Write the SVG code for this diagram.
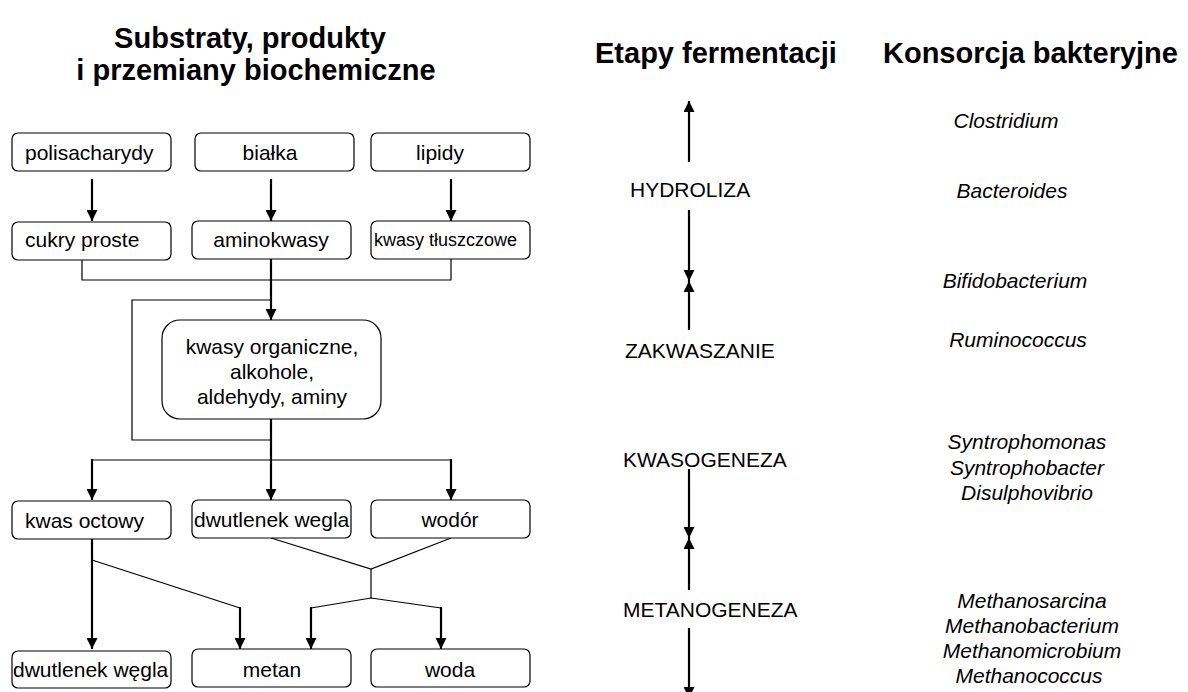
<svg xmlns="http://www.w3.org/2000/svg" width="1188" height="692" viewBox="0 0 1188 692">
<style>
text{font-family:"Liberation Sans",Arial,sans-serif;fill:#000}
.title{font-size:29px;font-weight:bold}
.lbl{font-size:21px}
.small{font-size:18px}
.stage{font-size:21px}
.bact{font-size:21px;font-style:italic;text-anchor:middle}
.mid{text-anchor:middle}
.box{fill:#fff;stroke:#000;stroke-width:1.2}
.thin{fill:none;stroke:#000;stroke-width:1.2}
.arr{fill:none;stroke:#000;stroke-width:2.2;marker-end:url(#ah)}
</style>
<defs>
<marker id="ah" viewBox="0 0 10 10" refX="10" refY="5" markerWidth="11" markerHeight="11" markerUnits="userSpaceOnUse" orient="auto">
<path d="M0,0 L10,5 L0,10 z" fill="#000"/>
</marker>
</defs>
<rect width="1188" height="692" fill="#fff"/>

<g id="headings">
<text class="title mid" x="250" y="48">Substraty, produkty</text>
<text class="title mid" x="256" y="80">i przemiany biochemiczne</text>
<text class="title" x="595" y="63">Etapy fermentacji</text>
<text class="title" x="883" y="63">Konsorcja bakteryjne</text>
</g>

<g id="connectors">
<line class="arr" x1="92" y1="179" x2="92" y2="221"/>
<line class="arr" x1="271" y1="179" x2="271" y2="221"/>
<line class="arr" x1="451" y1="179" x2="451" y2="221"/>
<polyline class="thin" points="82,260 82,280 451,280 451,259"/>
<line class="arr" x1="271" y1="259" x2="271" y2="320"/>
<polyline class="thin" points="271,300 132,300 132,440 271,440"/>
<line class="arr" x1="271" y1="419" x2="271" y2="500"/>
<polyline class="thin" points="92,460 451,460"/>
<line class="arr" x1="92" y1="459" x2="92" y2="500"/>
<line class="arr" x1="451" y1="459" x2="451" y2="500"/>
<line class="arr" x1="92" y1="538" x2="92" y2="649"/>
<polyline class="thin" points="92,560 240,608"/>
<line class="arr" x1="240" y1="607" x2="240" y2="649"/>
<polyline class="thin" points="271,538 371,569 451,538"/>
<polyline class="thin" points="371,569 371,598"/>
<polyline class="thin" points="311,608 371,598 441,608"/>
<line class="arr" x1="311" y1="607" x2="311" y2="649"/>
<line class="arr" x1="441" y1="607" x2="441" y2="649"/>
<line class="arr" x1="689" y1="162" x2="689" y2="101"/>
<line class="arr" x1="689" y1="210" x2="689" y2="281"/>
<line class="arr" x1="689" y1="330" x2="689" y2="281"/>
<line class="arr" x1="689" y1="469" x2="689" y2="538"/>
<line class="arr" x1="689" y1="590" x2="689" y2="538"/>
<line class="arr" x1="689" y1="628" x2="689" y2="698"/>
</g>

<g id="polisacharydy"><rect class="box" x="12" y="133" width="159" height="38" rx="6"/><text class="lbl" x="25" y="160">polisacharydy</text></g>
<g id="bialka"><rect class="box" x="195" y="133" width="159" height="38" rx="6"/><text class="lbl mid" x="270" y="160">białka</text></g>
<g id="lipidy"><rect class="box" x="371" y="133" width="159" height="38" rx="6"/><text class="lbl mid" x="440" y="160">lipidy</text></g>

<g id="cukry"><rect class="box" x="12" y="222" width="159" height="38" rx="6"/><text class="lbl" x="25" y="247">cukry proste</text></g>
<g id="aminokwasy"><rect class="box" x="192" y="221" width="159" height="38" rx="6"/><text class="lbl mid" x="271" y="247">aminokwasy</text></g>
<g id="kwasy-tluszczowe"><rect class="box" x="371" y="221" width="159" height="38" rx="6"/><text class="small" x="374" y="246">kwasy tłuszczowe</text></g>

<g id="kwasy-organiczne"><rect class="box" x="162" y="320" width="219" height="99" rx="18"/>
<text class="lbl mid" x="272" y="354">kwasy organiczne,</text>
<text class="lbl mid" x="272" y="379">alkohole,</text>
<text class="lbl mid" x="272" y="404">aldehydy, aminy</text></g>

<g id="kwas-octowy"><rect class="box" x="12" y="501" width="159" height="38" rx="6"/><text class="lbl" x="25" y="528">kwas octowy</text></g>
<g id="dwutlenek-wegla-1"><rect class="box" x="192" y="500" width="159" height="38" rx="6"/><text class="lbl" x="194" y="527">dwutlenek wegla</text></g>
<g id="wodor"><rect class="box" x="371" y="500" width="159" height="38" rx="6"/><text class="lbl mid" x="450" y="527">wodór</text></g>

<g id="dwutlenek-wegla-2"><rect class="box" x="12" y="651" width="159" height="37" rx="6"/><text class="lbl" x="13" y="677">dwutlenek węgla</text></g>
<g id="metan"><rect class="box" x="192" y="649" width="159" height="38" rx="6"/><text class="lbl mid" x="272" y="677">metan</text></g>
<g id="woda"><rect class="box" x="371" y="649" width="159" height="38" rx="6"/><text class="lbl mid" x="450" y="677">woda</text></g>

<g id="stages">
<text class="stage" x="630" y="197">HYDROLIZA</text>
<text class="stage" x="625" y="358">ZAKWASZANIE</text>
<text class="stage" x="623" y="467">KWASOGENEZA</text>
<text class="stage" x="623" y="617">METANOGENEZA</text>
</g>

<g id="bacteria">
<text class="bact" x="1006" y="128">Clostridium</text>
<text class="bact" x="1012" y="198">Bacteroides</text>
<text class="bact" x="1015" y="288">Bifidobacterium</text>
<text class="bact" x="1018" y="347">Ruminococcus</text>
<text class="bact" x="1027" y="449">Syntrophomonas</text>
<text class="bact" x="1027" y="475">Syntrophobacter</text>
<text class="bact" x="1027" y="500">Disulphovibrio</text>
<text class="bact" x="1032" y="608">Methanosarcina</text>
<text class="bact" x="1032" y="633">Methanobacterium</text>
<text class="bact" x="1032" y="658">Methanomicrobium</text>
<text class="bact" x="1029" y="683">Methanococcus</text>
</g>
</svg>
